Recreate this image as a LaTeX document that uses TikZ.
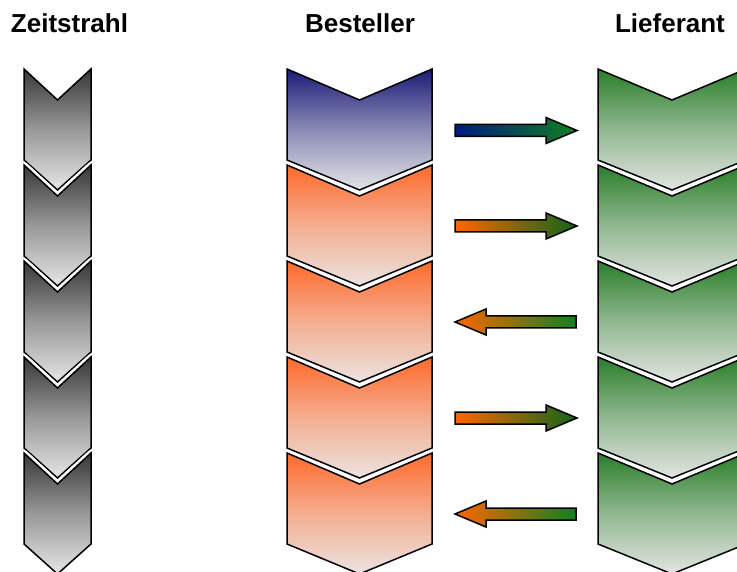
\documentclass[tikz,border=0pt]{standalone}
\usepackage{fontspec}
\setmainfont{Liberation Sans}
\definecolor{zdark}{HTML}{383838}
\definecolor{zlight}{HTML}{E6E6E6}
\definecolor{navy}{HTML}{1C1C78}
\definecolor{ornge}{HTML}{FF6A2C}
\definecolor{olight}{HTML}{EBE3E1}
\definecolor{grn}{HTML}{2A7F2A}
\definecolor{glight}{HTML}{E3E5E3}
\definecolor{bglight}{HTML}{E4E4E8}
\definecolor{arrnavy}{HTML}{001A80}
\definecolor{arrgreen}{HTML}{108020}
\definecolor{arrorange}{HTML}{FF6600}
\newcommand\chevpath[3]{(#1,#3) -- ({(#1+#2)/2},{#3+31}) -- (#2,#3) -- (#2,{#3+91}) -- ({(#1+#2)/2},{#3+121}) -- (#1,{#3+91}) -- cycle}
\newcommand\chevron[5]{%
  \draw[white, line width=6.5pt, line join=round] \chevpath{#1}{#2}{#3};
  \shade[top color=#4, bottom color=#5, middle color=#4!45!#5] \chevpath{#1}{#2}{#3};
  \draw[black, line width=1.5pt] \chevpath{#1}{#2}{#3};}
\newcommand\rarrow[3]{% y, left color, right color
  \shade[left color=#2, right color=#3, draw=black, line width=1.5pt]
    (455,{#1-6}) -- (546,{#1-6}) -- (546,{#1-13}) -- (577,#1) -- (546,{#1+13}) -- (546,{#1+6}) -- (455,{#1+6}) -- cycle;}
\newcommand\larrow[3]{%
  \shade[left color=#2, right color=#3, draw=black, line width=1.5pt]
    (576,{#1-6}) -- (486,{#1-6}) -- (486,{#1-13}) -- (455,#1) -- (486,{#1+13}) -- (486,{#1+6}) -- (576,{#1+6}) -- cycle;}
\tikzset{heading/.style={font=\bfseries\fontsize{26}{30}\selectfont, anchor=base, inner sep=0pt}}
\begin{document}
\begin{tikzpicture}[x=1pt, y=-1pt]
\useasboundingbox (0,0) rectangle (737,572);
\clip (0,0) rectangle (737,572);
\fill[white] (0,0) rectangle (737,572);
% Zeitstrahl
\foreach \k in {0,...,4}{
  \pgfmathsetmacro{\yy}{69+96*\k}
  \chevron{24}{91}{\yy}{zdark}{zlight}
}
% Besteller
\chevron{287}{432}{69}{navy}{bglight}
\foreach \k in {1,...,4}{
  \pgfmathsetmacro{\yy}{69+96*\k}
  \chevron{287}{432}{\yy}{ornge}{olight}
}
% Lieferant
\foreach \k in {0,...,4}{
  \pgfmathsetmacro{\yy}{69+96*\k}
  \chevron{598}{746}{\yy}{grn}{glight}
}
% headings
\node[heading] (hz) at (69.5,33) {Zeitstrahl};
\node[heading] (hb) at (360,33) {Besteller};
\node[heading] (hl) at (670,33) {Lieferant};
% arrows
\rarrow{130.5}{arrnavy}{arrgreen}
\rarrow{226}{arrorange}{arrgreen!80!black}
\larrow{322}{arrorange}{arrgreen}
\rarrow{418}{arrorange}{arrgreen!80!black}
\larrow{514}{arrorange}{arrgreen}
\end{tikzpicture}
\end{document}
